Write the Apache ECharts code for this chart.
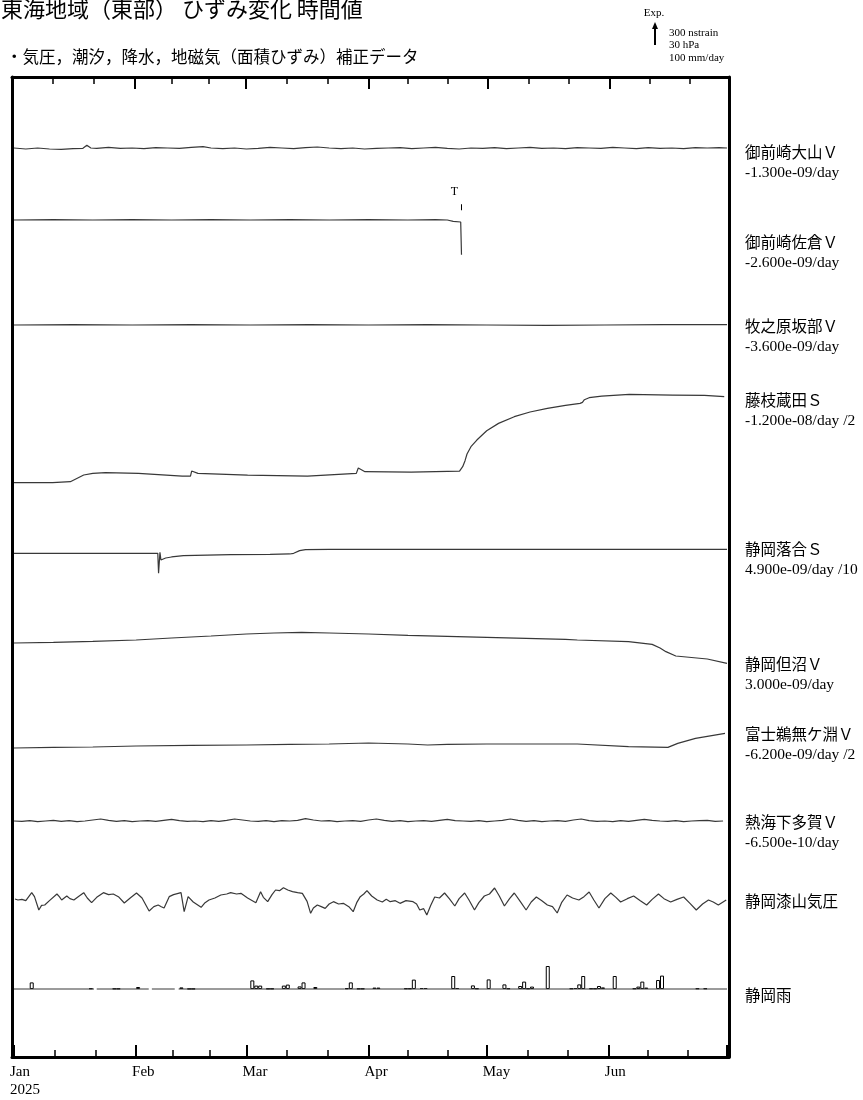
<!DOCTYPE html>
<html><head><meta charset="utf-8">
<script src="https://cdn.jsdelivr.net/npm/echarts@6/dist/echarts.min.js"></script>
<style>html,body{margin:0;padding:0;background:#fff}#c{width:863px;height:1100px}</style>
</head><body><div id="c"></div>
<script>
// ---------------- texts ----------------
const titleText = '東海地域（東部） ひずみ変化 時間値';
const subtitleText = '・気圧，潮汐，降水，地磁気（面積ひずみ）補正データ';
const monthLabels = ['Jan','Feb','Mar','Apr','May','Jun'];
const yearLabel = '2025';
const stationNames = ['御前崎大山Ｖ','御前崎佐倉Ｖ','牧之原坂部Ｖ','藤枝蔵田Ｓ','静岡落合Ｓ','静岡但沼Ｖ','富士鵜無ケ淵Ｖ','熱海下多賀Ｖ','静岡漆山気圧','静岡雨'];
const trendLabels = ['-1.300e-09/day','-2.600e-09/day','-3.600e-09/day','-1.200e-08/day /2','4.900e-09/day /10','3.000e-09/day','-6.200e-09/day /2','-6.500e-10/day','',''];
const scaleLabels = ['300 nstrain','30 hPa','100 mm/day'];
const expLabel = 'Exp.';
const eventLabel = 'T';

// ---------------- data: [day since 1 Jan 2025, value] ----------------
// strain in nstrain, pressure in hPa (deviation), rain in mm/day
const ooyamaV = [[0,0],[3,-15],[6,0],[9,-15],[12,-20],[15,-10],[17.5,-5],[18.5,40],[19.5,0],[21,-5],[24,10],[27,-5],[30,0],[33,-10],[36,5],[39,0],[42,-5],[45,10],[48,20],[50,0],[53,-10],[56,0],[59,-15],[62,-5],[65,10],[68,0],[71,-10],[74,5],[77,15],[80,0],[83,-10],[86,0],[89,-15],[92,-5],[95,0],[98,5],[101,-10],[104,0],[107,10],[110,-5],[113,-15],[116,0],[119,-5],[122,5],[125,-10],[128,0],[131,10],[134,-5],[137,0],[140,-10],[143,5],[146,0],[149,-5],[152,10],[155,0],[158,-10],[161,5],[164,-5],[167,0],[170,-10],[173,5],[176,0],[179,5],[181,0]];
const sakuraV = [[0,0],[10,5],[20,0],[30,5],[40,0],[50,5],[60,0],[70,5],[80,0],[90,5],[100,0],[107,5],[110,0],[111.5,-20],[113.4,-30],[113.6,-520]];
const sakabeV = [[0,0],[15,5],[30,0],[45,5],[60,0],[75,5],[90,0],[105,5],[120,0],[135,-5],[150,0],[165,5],[181,5]];
const kurataS = [[0,0],[9,0],[9.4,-15],[9.8,0],[14.3,15],[17.7,115],[20,140],[23.2,150],[31.6,140],[42.7,100],[44.8,100],[45.1,175],[46.7,140],[59.3,115],[74.5,100],[86.9,140],[87.4,220],[89.1,165],[100.8,160],[113.1,175],[113.9,240],[114.5,330],[115,430],[116,540],[117.5,640],[120,780],[123,890],[127,990],[131,1060],[135.4,1115],[140,1160],[143.7,1190],[144.3,1205],[144.8,1245],[146,1275],[149.2,1300],[156.2,1325],[167.2,1315],[175.3,1310],[175.5,1280],[175.8,1310],[180.3,1290]];
const ochiaiS = [[0,0],[10,0],[20,0],[30,0],[36.5,0],[36.7,-300],[36.9,-300],[37.05,15],[37.3,-100],[38.5,-70],[40,-55],[43,-35],[55,-20],[65,-15],[70,-10],[71,0],[72.5,40],[74,55],[80,60],[100,60],[120,60],[140,60],[160,60],[181,60]];
const tadanumaV = [[0,0],[10,8],[20,23],[31,45],[40,75],[50,105],[59,135],[66,150],[73,158],[80,150],[90,135],[100,113],[110,98],[120,83],[130,68],[140,53],[143,45],[156,20],[162,-20],[164,-75],[165.5,-130],[168,-195],[176,-240],[181,-305]];
const unashiV = [[0,0],[10,8],[20,15],[31,30],[45,38],[59,45],[70,53],[80,60],[90,75],[100,60],[105,45],[110,53],[120,60],[130,60],[143,60],[156,20],[166,10],[168.5,70],[173,145],[180.5,220]];
const shimotagaV = [0,-5,5,-10,0,10,-5,5,-10,0,15,30,10,-5,5,-10,0,5,-5,10,25,5,-5,0,-10,5,-5,10,30,15,0,-5,5,-10,5,0,10,35,15,0,5,-10,0,5,-5,15,30,10,-5,5,-10,0,5,-5,10,25,5,0,-5,5,-10,0,10,30,10,-5,5,-10,0,5,-5,15,30,5,-5,0,-10,5,-5,10,25,10,0,-5,5,-10,0,5,10,-5,0];
const shimotagaStep = 2;
const urushiyamaP = [[0.25,1.5],[1,0],[2,1],[3,-1],[4.5,11],[5.2,5],[6.3,-15],[7,-8],[7.8,-7.5],[9,-1],[10.9,9],[11.5,5],[12.1,0],[13.4,6],[14.2,2],[15.2,0],[16.3,5],[17.7,11],[18.6,3],[19.7,-4],[21,4],[22.7,11],[24,8],[25.2,9],[26.5,5],[28,-4.5],[29.5,3],[31.1,10.5],[32.5,3],[34.3,-16.5],[35.5,-10],[36.6,-7.5],[37.4,-10],[38.1,-12],[39.4,5],[40.5,8],[42.4,11],[43.2,-17.5],[44.2,5],[45.5,-3],[47.5,-11],[48.5,-4],[49.5,0],[51,3],[52.5,7.5],[54,9],[55,11],[56.5,9],[57.6,10],[59.3,3],[61.4,-4],[62.6,12.5],[63.3,4],[64.4,-2.5],[65.5,8],[66.4,15],[67.4,14],[68.4,18.5],[69.5,15],[70.7,12.5],[72,11],[73.2,10],[74.4,-2],[75.3,-20],[76,-12],[77,-7.5],[78,-10],[79,-12.5],[80,-6],[81.1,-2.5],[82.4,-6],[83.6,-5],[85,-10],[86.1,-17.5],[87,-4],[87.9,5],[88.8,9],[89.6,14],[90.8,6],[92.2,0],[93.5,-3],[94.5,1],[95.5,-2.5],[96.8,-1],[98,-5],[99.5,-1],[101.3,-2.5],[102.2,-6],[103,-15],[104,-13],[104.8,-22.5],[105.8,-8],[106.8,4.5],[108,3],[109.3,10.5],[110.5,2],[111.9,-9],[113,2],[114.4,10.5],[115.5,0],[116.9,-15],[118,-4],[119.4,6],[120.7,9],[122,18],[123.2,6],[124.5,-9],[125.8,2],[127,10.5],[128.5,-2],[130,-15],[131.3,-3],[132.6,4.5],[134,-1],[135.4,-7.5],[136.7,-10],[137.9,-19.5],[139,-4],[140.4,7.5],[141.8,3],[143.4,0],[144.7,5],[146,12],[147.2,0],[148.5,-12],[150,2],[151.5,10.5],[152.8,4],[154,-3],[155.7,2],[157.3,6],[159,-1],[160.6,-7.5],[162,1],[163.6,9],[165,2],[166.7,-3],[168.3,1],[170,4.5],[171.6,-5],[173.2,-15],[174.8,-6],[176.3,0],[177.5,-3],[178.8,-7.5],[180,-3],[180.8,0]];
const shizuokaRain = [[4,33],[19,3],[25,2],[26,2],[31,10],[42,8],[44,1],[45,1],[60,43],[61,17],[62,17],[64,2],[65,2],[68,17],[69,22],[72,13],[73,33],[76,10],[84,2],[85,33],[87,2],[88,2],[91,7],[92,7],[99,3],[100,3],[101,47],[103,5],[104,5],[111,65],[112,5],[116,18],[117,3],[120,48],[124,23],[125,3],[128,15],[129,37],[130,3],[131,12],[135,115],[141,3],[142,5],[143,23],[144,65],[146,3],[147,3],[148,15],[149,8],[152,65],[157,3],[158,12],[159,37],[160,7],[163,45],[164,67],[173,3],[175,3]];
const rainRecordSpans = [[0,20.3],[21,34.2],[35,40.8],[41.8,84],[85,181]];

// ---------------- layout (pixels) ----------------
const PLOT = {left: 12, top: 77, right: 729, bottom: 1057};
const rows = [
  {data: ooyamaV, base: 148, k: 15, label: 152},
  {data: sakuraV, base: 220, k: 15, label: 242},
  {data: sakabeV, base: 325, k: 15, label: 326},
  {data: kurataS, base: 482.7, k: 15, label: 400},
  {data: ochiaiS, base: 553.3, k: 15, label: 549},
  {data: tadanumaV, base: 643, k: 15, label: 664},
  {data: unashiV, base: 748, k: 15, label: 734},
  {data: shimotagaV.map((v, i) => [i * shimotagaStep, v]), base: 821, k: 15, label: 822},
  {data: urushiyamaP, base: 900, k: 1.5, label: 901},
  {data: shizuokaRain, base: 989, k: 5, label: 995}
];

const DAY = 86400000;
const T0 = new Date(2025, 0, 1).getTime();
const T1 = new Date(2025, 6, 1).getTime();
const toT = d => T0 + d * DAY;

const FONT_SERIF = '"Liberation Serif", "Noto Sans CJK JP", serif';
const FONT_JP = '"Noto Sans CJK JP", sans-serif';
const LINE = '#383838';

function xAxisCfg(pos) {
  return {
    type: 'time', gridIndex: 0, position: pos, min: T0, max: T1,
    splitNumber: 6, minInterval: 28 * DAY, maxInterval: 31 * DAY,
    axisLine: {show: true, onZero: false, lineStyle: {color: '#000', width: 3}},
    axisTick: {show: true, inside: true, length: 12, lineStyle: {color: '#000', width: 2}},
    minorTick: {show: true, splitNumber: 3, length: 7, lineStyle: {color: '#000', width: 1.5}},
    splitLine: {show: false}, minorSplitLine: {show: false},
    axisLabel: {show: false}
  };
}

const yAxes = [
  {type: 'value', gridIndex: 0, position: 'left', min: 0, max: 1,
   axisLine: {show: true, onZero: false, lineStyle: {color: '#000', width: 3}},
   axisTick: {show: false}, axisLabel: {show: false}, splitLine: {show: false}},
  {type: 'value', gridIndex: 0, position: 'right', min: 0, max: 1,
   axisLine: {show: true, onZero: false, lineStyle: {color: '#000', width: 3}},
   axisTick: {show: false}, axisLabel: {show: false}, splitLine: {show: false}}
];
rows.forEach(r => {
  yAxes.push({type: 'value', gridIndex: 0, show: false,
    min: -(PLOT.bottom - r.base) * r.k, max: (r.base - PLOT.top) * r.k,
    splitLine: {show: false}});
});

const series = [];
rows.forEach((r, i) => {
  if (i === 9) return;
  const s = {
    type: 'line', xAxisIndex: 0, yAxisIndex: 2 + i,
    data: r.data.map(p => [toT(p[0]), p[1]]),
    symbol: 'none', showSymbol: false, silent: true, animation: false,
    lineStyle: {color: LINE, width: 1.2}
  };
  if (i === 1) {
    s.markPoint = {
      symbol: 'rect', symbolSize: [1, 6], silent: true, animation: false,
      itemStyle: {color: '#000'},
      label: {show: true, position: 'top', distance: 6, offset: [-7, 0], formatter: eventLabel,
              color: '#000', fontFamily: FONT_SERIF, fontSize: 12},
      data: [{coord: [toT(113.6), 190]}]
    };
  }
  series.push(s);
});
// rain: record baseline and bars
const rainLine = [];
rainRecordSpans.forEach((sp, j) => {
  if (j > 0) rainLine.push([toT((rainRecordSpans[j-1][1] + sp[0]) / 2), null]);
  rainLine.push([toT(sp[0]), 0], [toT(sp[1]), 0]);
});
series.push({
  type: 'line', xAxisIndex: 0, yAxisIndex: 11, data: rainLine, connectNulls: false,
  symbol: 'none', silent: true, animation: false, lineStyle: {color: LINE, width: 1.2}
});
series.push({
  type: 'bar', xAxisIndex: 0, yAxisIndex: 11,
  data: shizuokaRain.map(p => [toT(p[0] + 0.5), p[1]]),
  barWidth: 4, silent: true, animation: false,
  itemStyle: {color: '#fff', borderColor: '#000', borderWidth: 1}
});

const chart = echarts.init(document.getElementById('c'), null, {renderer: 'canvas'});
chart.setOption({
  backgroundColor: '#fff',
  animation: false,
  grid: {left: PLOT.left, top: PLOT.top, width: PLOT.right - PLOT.left, height: PLOT.bottom - PLOT.top, containLabel: false},
  xAxis: [xAxisCfg('bottom'), xAxisCfg('top')],
  yAxis: yAxes,
  series: series
});

// texts: title, legend, station labels, month labels (placed via the x axis scale)
const graphics = [
  {type: 'text', silent: true, style: {text: titleText, x: 1, y: 9, fill: '#000', fontFamily: FONT_JP, fontSize: 22, verticalAlign: 'middle'}},
  {type: 'text', silent: true, style: {text: subtitleText, x: 6, y: 57, fill: '#000', fontFamily: FONT_JP, fontSize: 16.5, verticalAlign: 'middle'}},
  {type: 'text', silent: true, style: {text: expLabel, x: 654, y: 13, fill: '#000', fontFamily: FONT_SERIF, fontSize: 11, align: 'center', verticalAlign: 'middle'}},
  {type: 'line', silent: true, shape: {x1: 655, y1: 45, x2: 655, y2: 28}, style: {stroke: '#000', lineWidth: 2}},
  {type: 'polygon', silent: true, shape: {points: [[652, 29], [658, 29], [655, 22]]}, style: {fill: '#000'}}
];
scaleLabels.forEach((t, i) => {
  graphics.push({type: 'text', silent: true, style: {text: t, x: 669, y: 33 + i * 12.5, fill: '#000', fontFamily: FONT_SERIF, fontSize: 11, verticalAlign: 'middle'}});
});
rows.forEach((r, i) => {
  graphics.push({type: 'text', silent: true, style: {text: stationNames[i], x: 745, y: r.label, fill: '#000', fontFamily: FONT_JP, fontSize: 15.5, verticalAlign: 'middle'}});
  if (trendLabels[i]) graphics.push({type: 'text', silent: true, style: {text: trendLabels[i], x: 745, y: r.label + 21, fill: '#000', fontFamily: FONT_SERIF, fontSize: 15.5, verticalAlign: 'middle'}});
});
monthLabels.forEach((m, i) => {
  const px = chart.convertToPixel({xAxisIndex: 0}, new Date(2025, i, 1).getTime());
  graphics.push({type: 'text', silent: true, style: {text: m, x: px - 4, y: PLOT.bottom + 15, fill: '#000', fontFamily: FONT_SERIF, fontSize: 15, verticalAlign: 'middle'}});
  if (i === 0) graphics.push({type: 'text', silent: true, style: {text: yearLabel, x: px - 4, y: PLOT.bottom + 33, fill: '#000', fontFamily: FONT_SERIF, fontSize: 15, verticalAlign: 'middle'}});
});
chart.setOption({graphic: graphics});
</script>
</body></html>
